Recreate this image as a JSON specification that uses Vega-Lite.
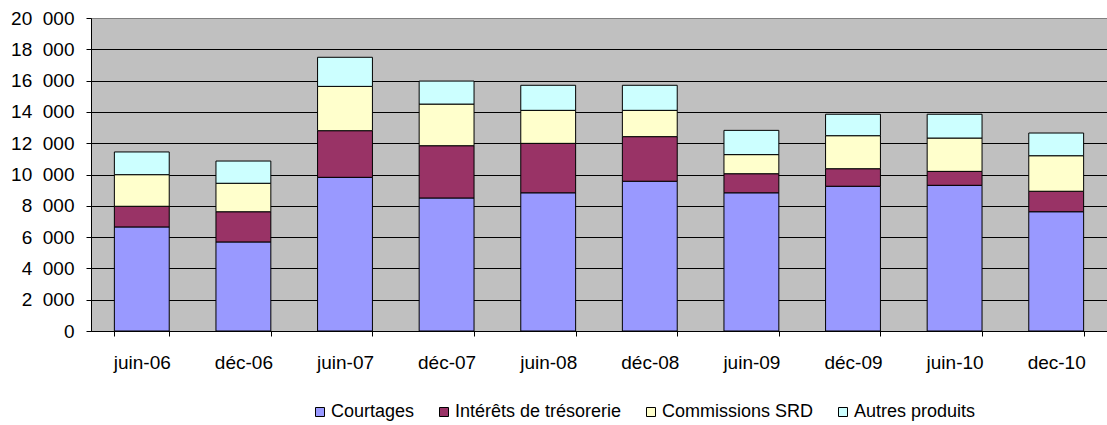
{
  "$schema": "https://vega.github.io/schema/vega-lite/v6.json",
  "autosize": {"type": "none"},
  "padding": {"left": 91, "top": 18, "right": 0, "bottom": 94},
  "width": 1016,
  "height": 313,
  "background": "white",
  "config": {
    "view": {"fill": "#C0C0C0", "stroke": "#808080", "strokeWidth": 1},
    "font": "Liberation Sans"
  },
  "data": {
    "values": [
      {"periode": "juin-06", "serie": "Courtages", "k": 1, "valeur": 6650},
      {"periode": "juin-06", "serie": "Intérêts de trésorerie", "k": 2, "valeur": 1320},
      {"periode": "juin-06", "serie": "Commissions SRD", "k": 3, "valeur": 2020},
      {"periode": "juin-06", "serie": "Autres produits", "k": 4, "valeur": 1450},
      {"periode": "déc-06", "serie": "Courtages", "k": 1, "valeur": 5690},
      {"periode": "déc-06", "serie": "Intérêts de trésorerie", "k": 2, "valeur": 1930},
      {"periode": "déc-06", "serie": "Commissions SRD", "k": 3, "valeur": 1820},
      {"periode": "déc-06", "serie": "Autres produits", "k": 4, "valeur": 1420},
      {"periode": "juin-07", "serie": "Courtages", "k": 1, "valeur": 9820},
      {"periode": "juin-07", "serie": "Intérêts de trésorerie", "k": 2, "valeur": 2980},
      {"periode": "juin-07", "serie": "Commissions SRD", "k": 3, "valeur": 2830},
      {"periode": "juin-07", "serie": "Autres produits", "k": 4, "valeur": 1860},
      {"periode": "déc-07", "serie": "Courtages", "k": 1, "valeur": 8500},
      {"periode": "déc-07", "serie": "Intérêts de trésorerie", "k": 2, "valeur": 3340},
      {"periode": "déc-07", "serie": "Commissions SRD", "k": 3, "valeur": 2660},
      {"periode": "déc-07", "serie": "Autres produits", "k": 4, "valeur": 1470},
      {"periode": "juin-08", "serie": "Courtages", "k": 1, "valeur": 8830},
      {"periode": "juin-08", "serie": "Intérêts de trésorerie", "k": 2, "valeur": 3160},
      {"periode": "juin-08", "serie": "Commissions SRD", "k": 3, "valeur": 2110},
      {"periode": "juin-08", "serie": "Autres produits", "k": 4, "valeur": 1600},
      {"periode": "déc-08", "serie": "Courtages", "k": 1, "valeur": 9570},
      {"periode": "déc-08", "serie": "Intérêts de trésorerie", "k": 2, "valeur": 2850},
      {"periode": "déc-08", "serie": "Commissions SRD", "k": 3, "valeur": 1680},
      {"periode": "déc-08", "serie": "Autres produits", "k": 4, "valeur": 1600},
      {"periode": "juin-09", "serie": "Courtages", "k": 1, "valeur": 8830},
      {"periode": "juin-09", "serie": "Intérêts de trésorerie", "k": 2, "valeur": 1220},
      {"periode": "juin-09", "serie": "Commissions SRD", "k": 3, "valeur": 1220},
      {"periode": "juin-09", "serie": "Autres produits", "k": 4, "valeur": 1550},
      {"periode": "déc-09", "serie": "Courtages", "k": 1, "valeur": 9250},
      {"periode": "déc-09", "serie": "Intérêts de trésorerie", "k": 2, "valeur": 1120},
      {"periode": "déc-09", "serie": "Commissions SRD", "k": 3, "valeur": 2110},
      {"periode": "déc-09", "serie": "Autres produits", "k": 4, "valeur": 1370},
      {"periode": "juin-10", "serie": "Courtages", "k": 1, "valeur": 9310},
      {"periode": "juin-10", "serie": "Intérêts de trésorerie", "k": 2, "valeur": 890},
      {"periode": "juin-10", "serie": "Commissions SRD", "k": 3, "valeur": 2130},
      {"periode": "juin-10", "serie": "Autres produits", "k": 4, "valeur": 1520},
      {"periode": "dec-10", "serie": "Courtages", "k": 1, "valeur": 7620},
      {"periode": "dec-10", "serie": "Intérêts de trésorerie", "k": 2, "valeur": 1310},
      {"periode": "dec-10", "serie": "Commissions SRD", "k": 3, "valeur": 2270},
      {"periode": "dec-10", "serie": "Autres produits", "k": 4, "valeur": 1450}
    ]
  },
  "mark": {"type": "bar", "stroke": "black", "strokeWidth": 1},
  "encoding": {
    "x": {
      "field": "periode",
      "type": "nominal",
      "sort": null,
      "scale": {"paddingInner": 0.46, "paddingOuter": 0.23},
      "axis": {
        "title": null,
        "labelAngle": 0,
        "labelFont": "Liberation Sans",
        "labelFontSize": 19,
        "labelColor": "black",
        "labelPadding": 17,
        "tickBand": "extent",
        "tickSize": 5,
        "tickColor": "black",
        "domainColor": "black",
        "grid": false
      }
    },
    "y": {
      "field": "valeur",
      "type": "quantitative",
      "stack": "zero",
      "scale": {"domain": [0, 20000], "nice": false},
      "axis": {
        "title": null,
        "values": [0, 2000, 4000, 6000, 8000, 10000, 12000, 14000, 16000, 18000, 20000],
        "labelExpr": "replace(format(datum.value, ','), ',', '\u00a0\u00a0')",
        "labelFont": "Liberation Sans",
        "labelFontSize": 19,
        "labelColor": "black",
        "labelPadding": 12,
        "tickSize": 5,
        "tickColor": "black",
        "domainColor": "black",
        "grid": true,
        "gridColor": {"condition": {"test": "datum.value === 20000", "value": "#808080"}, "value": "black"},
        "gridOpacity": 1
      }
    },
    "color": {
      "field": "serie",
      "type": "nominal",
      "sort": ["Courtages", "Intérêts de trésorerie", "Commissions SRD", "Autres produits"],
      "scale": {
        "domain": ["Courtages", "Intérêts de trésorerie", "Commissions SRD", "Autres produits"],
        "range": ["#9999FF", "#993366", "#FFFFCC", "#CCFFFF"]
      },
      "legend": {
        "title": null,
        "orient": "none",
        "legendX": 220,
        "legendY": 385,
        "direction": "horizontal",
        "symbolType": "square",
        "symbolSize": 81,
        "symbolStrokeColor": "black",
        "symbolStrokeWidth": 1,
        "symbolOpacity": 1,
        "labelFont": "Liberation Sans",
        "labelFontSize": 18,
        "labelColor": "black",
        "labelOffset": 2,
        "labelLimit": 400,
        "columnPadding": 20
      }
    },
    "order": {"field": "k", "type": "quantitative"}
  }
}
